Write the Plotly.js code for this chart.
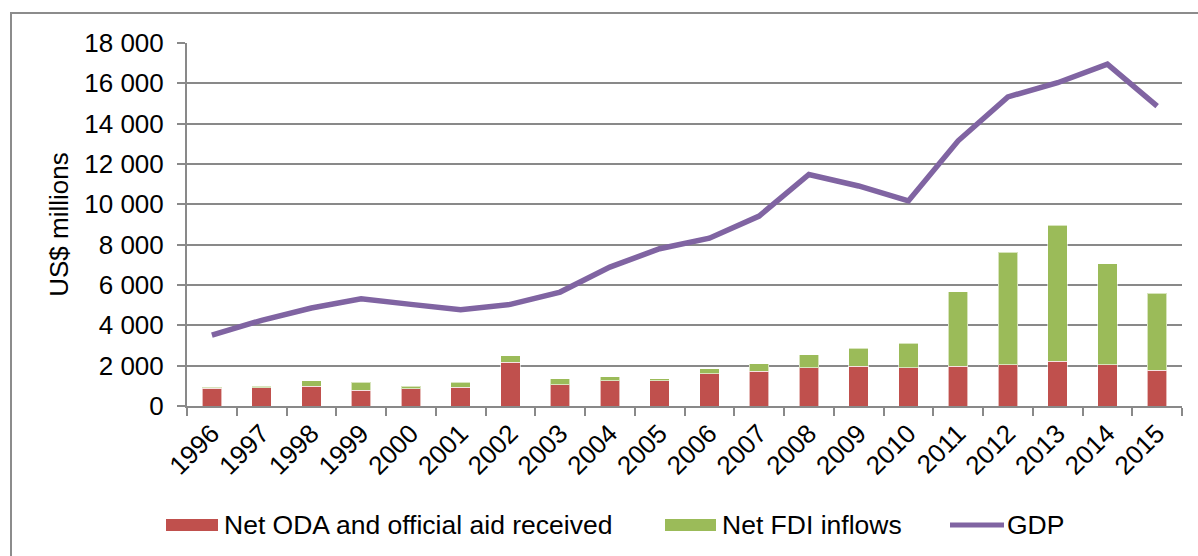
<!DOCTYPE html>
<html>
<head>
<meta charset="utf-8">
<script src="https://cdn.plot.ly/plotly-3.0.1.min.js"></script>
<style>html,body{margin:0;padding:0;background:#fff;}#chart{width:1198px;height:556px;}</style>
</head>
<body>
<div id="chart"></div>
<script>
const years = ['1996','1997','1998','1999','2000','2001','2002','2003','2004','2005','2006','2007','2008','2009','2010','2011','2012','2013','2014','2015'];
const odaValues = [870, 910, 990, 790, 860, 930, 2180, 1060, 1240, 1240, 1590, 1720, 1900, 1965, 1900, 1965, 2035, 2215, 2035, 1770];
const fdiValues = [70, 80, 250, 385, 130, 245, 320, 300, 200, 120, 250, 365, 630, 895, 1210, 3695, 5585, 6745, 5025, 3820];
const gdpValues = [3510, 4250, 4860, 5320, 5040, 4770, 5040, 5650, 6890, 7800, 8320, 9420, 11480, 10910, 10170, 13150, 15330, 16030, 16950, 14870];
const seriesNames = ['Net ODA and official aid received', 'Net FDI inflows', 'GDP'];
const yTickVals = [0, 2000, 4000, 6000, 8000, 10000, 12000, 14000, 16000, 18000];

const W = 1198, H = 556;
const M = {l: 187, r: 16, t: 43, b: 150};
const PW = W - M.l - M.r, PH = H - M.t - M.b;
const px = x => (x - M.l) / PW;
const py = y => (H - M.b - y) / PH;

const red = '#C0504D', green = '#9BBB59', purple = '#8064A2';
const gray = '#898989';
const font = 'Arial, "Liberation Sans", sans-serif';

const traces = [
  {type: 'bar', name: seriesNames[0], x: years, y: odaValues, marker: {color: red, line: {color: 'rgba(255,255,255,0.6)', width: 1}}, showlegend: false},
  {type: 'bar', name: seriesNames[1], x: years, y: fdiValues, marker: {color: green, line: {color: 'rgba(255,255,255,0.6)', width: 1}}, showlegend: false},
  {type: 'scatter', mode: 'lines', name: seriesNames[2], x: years, y: gdpValues, line: {color: purple, width: 5.5}, showlegend: false}
];

const legendY = 525;
const legendFont = {size: 26.5, color: '#000', family: font};
const shapes = [
  {type: 'rect', xref: 'paper', yref: 'paper', x0: px(11), x1: px(1230), y0: py(13), y1: py(600), line: {color: '#8c8c8c', width: 2}, fillcolor: 'rgba(0,0,0,0)', layer: 'below'},
  {type: 'rect', xref: 'paper', yref: 'paper', x0: px(166), x1: px(218), y0: py(519), y1: py(531), fillcolor: red, line: {width: 0}},
  {type: 'rect', xref: 'paper', yref: 'paper', x0: px(665), x1: px(716), y0: py(519), y1: py(531), fillcolor: green, line: {width: 0}},
  {type: 'line', xref: 'paper', yref: 'paper', x0: px(950), x1: px(1004), y0: py(legendY), y1: py(legendY), line: {color: purple, width: 5}}
];
const annotations = [
  {xref: 'paper', yref: 'paper', x: px(222), y: py(legendY), xanchor: 'left', yanchor: 'middle', text: seriesNames[0], showarrow: false, font: legendFont},
  {xref: 'paper', yref: 'paper', x: px(720), y: py(legendY), xanchor: 'left', yanchor: 'middle', text: seriesNames[1], showarrow: false, font: legendFont},
  {xref: 'paper', yref: 'paper', x: px(1005), y: py(legendY), xanchor: 'left', yanchor: 'middle', text: seriesNames[2], showarrow: false, font: legendFont}
];

const layout = {
  width: W, height: H,
  margin: M,
  paper_bgcolor: '#fff', plot_bgcolor: '#fff',
  font: {family: font, size: 26, color: '#000'},
  barmode: 'stack',
  bargap: 0.61,
  separators: '. ',
  showlegend: false,
  xaxis: {
    type: 'category',
    tickangle: -45,
    ticks: 'outside', tickson: 'boundaries', ticklen: 8, tickwidth: 2, tickcolor: gray,
    showline: true, linecolor: gray, linewidth: 2,
    showgrid: false, zeroline: false,
    tickfont: {size: 26, color: '#000'}
  },
  yaxis: {
    range: [0, 18000],
    tickvals: yTickVals,
    tickformat: ',d',
    ticks: 'outside', ticklen: 8, tickwidth: 2, tickcolor: gray,
    ticklabelstandoff: 8,
    showline: true, linecolor: gray, linewidth: 2,
    showgrid: true, gridcolor: gray, gridwidth: 2,
    zeroline: false,
    tickfont: {size: 26, color: '#000'},
    title: {text: 'US$ millions', font: {size: 26, color: '#000'}, standoff: 8}
  },
  shapes: shapes,
  annotations: annotations
};

Plotly.newPlot('chart', traces, layout, {displayModeBar: false, staticPlot: true});
</script>
</body>
</html>
